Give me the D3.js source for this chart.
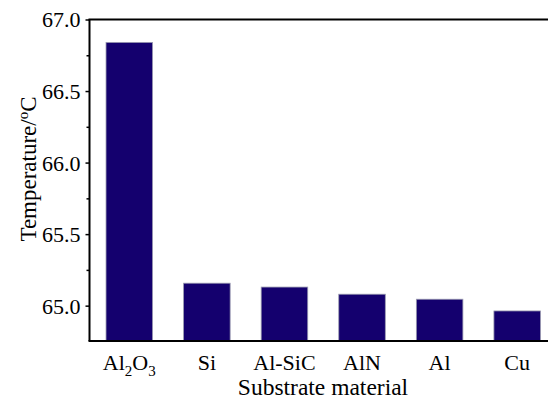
<!DOCTYPE html>
<html>
<head>
<meta charset="utf-8">
<script src="https://cdn.jsdelivr.net/npm/d3@7"></script>
<style>
  body { margin: 0; background: #fff; }
</style>
</head>
<body>
<div id="chart"></div>
<script>
// data
var materials = ["Al2O3", "Si", "Al-SiC", "AlN", "Al", "Cu"];
var temps = [66.84, 65.157, 65.13, 65.08, 65.045, 64.963];
var yTicks = [65.0, 65.5, 66.0, 66.5, 67.0];
var yMinorTicks = [65.25, 65.75, 66.25, 66.75];

var serif = "'Liberation Serif', 'Times New Roman', Times, 'DejaVu Serif', serif";

var W = 548, H = 400,
    margin = { top: 19.5, left: 89.5, bottom: 59, right: -9 },
    plotW = W - margin.left - margin.right,
    plotH = H - margin.top - margin.bottom;

var svg = d3.select("#chart").append("svg")
    .attr("width", W)
    .attr("height", H)
    .attr("font-family", serif);

var x = d3.scaleBand()
    .domain(materials)
    .range([0, plotW])
    .paddingInner(0.4)
    .paddingOuter(0.213);

var y = d3.scaleLinear()
    .domain([64.753, 67.0])
    .range([plotH, 0]);

var g = svg.append("g")
    .attr("transform", "translate(" + margin.left + "," + margin.top + ")");

// bars
g.selectAll("rect.bar")
    .data(temps)
    .enter()
    .append("rect")
    .attr("class", "bar")
    .attr("x", function (d, i) { return x(materials[i]); })
    .attr("y", function (d) { return y(d); })
    .attr("width", x.bandwidth())
    .attr("height", function (d) { return plotH - y(d); })
    .style("fill", "#14006e")
    .style("stroke", "#9a9ab0")
    .style("stroke-width", 0.8);

// y axis with outward ticks
var yAxis = d3.axisLeft(y)
    .tickValues(yTicks)
    .tickFormat(d3.format(".1f"))
    .tickSize(4)
    .tickPadding(5);
var yGuide = g.append("g").call(yAxis)
    .attr("font-family", serif)
    .attr("font-size", 22);
yGuide.select(".domain").remove();
yGuide.selectAll("line").attr("stroke", "#000").attr("stroke-width", 1.5);
yGuide.selectAll("text")
    .style("font-family", serif)
    .style("font-size", "22px")
    .attr("fill", "#000")
    .attr("dy", "0.34em");

g.append("g")
    .call(d3.axisLeft(y).tickValues(yMinorTicks).tickSize(3).tickFormat(""))
    .call(function (s) { s.select(".domain").remove(); })
    .selectAll("line").attr("stroke", "#000").attr("stroke-width", 1.5);

// frame lines: left, bottom, top
g.append("line").attr("x1", 0).attr("x2", 0).attr("y1", 0).attr("y2", plotH)
    .attr("stroke", "#000").attr("stroke-width", 2);
g.append("line").attr("x1", -1).attr("x2", plotW).attr("y1", plotH).attr("y2", plotH)
    .attr("stroke", "#000").attr("stroke-width", 2);
g.append("line").attr("x1", -1).attr("x2", plotW).attr("y1", 0).attr("y2", 0)
    .attr("stroke", "#000").attr("stroke-width", 2);

// x labels (with subscripts for Al2O3)
var xl = g.selectAll("text.xl")
    .data(materials)
    .enter()
    .append("text")
    .attr("class", "xl")
    .attr("x", function (d) { return x(d) + x.bandwidth() / 2; })
    .attr("y", plotH + 29)
    .attr("text-anchor", "middle")
    .style("font-family", serif)
    .style("font-size", "22px");

xl.each(function (d) {
    var t = d3.select(this);
    if (d === "Al2O3") {
        t.append("tspan").text("Al");
        t.append("tspan").text("2").attr("dy", 6).style("font-size", "15px");
        t.append("tspan").text("O").attr("dy", -6);
        t.append("tspan").text("3").attr("dy", 6).style("font-size", "15px");
    } else {
        t.text(d);
    }
});

// axis titles
g.append("text")
    .attr("x", 323 - margin.left)
    .attr("y", plotH + 54)
    .attr("text-anchor", "middle")
    .style("font-family", serif)
    .style("font-size", "23.5px")
    .text("Substrate material");

var yt = svg.append("text")
    .attr("transform", "translate(36,169) rotate(-90)")
    .attr("text-anchor", "middle")
    .style("font-family", serif)
    .style("font-size", "23px");
yt.append("tspan").text("Temperature/");
yt.append("tspan").text("o").attr("dy", -8).style("font-size", "15px");
yt.append("tspan").text("C").attr("dy", 8);
</script>
</body>
</html>
